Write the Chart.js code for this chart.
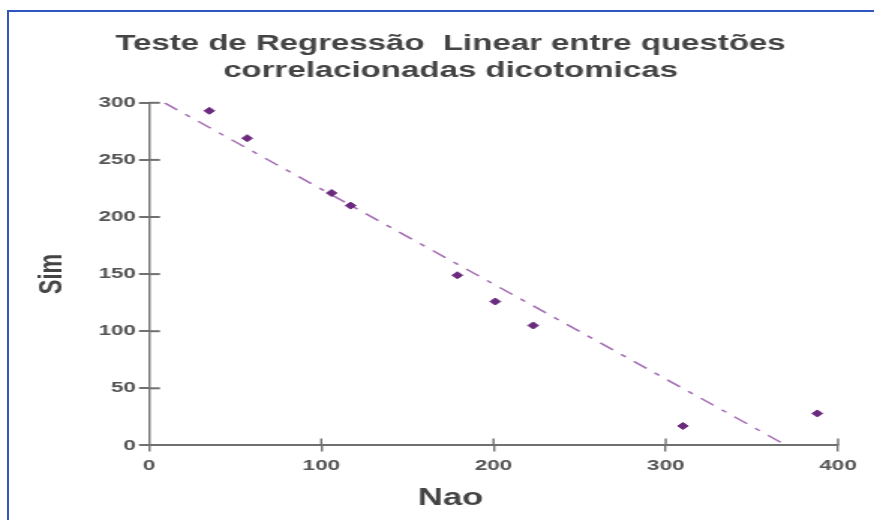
<!DOCTYPE html>
<html>
<head>
<meta charset="utf-8">
<script src="https://cdn.jsdelivr.net/npm/chart.js@4"></script>
<style>
  html, body { margin: 0; padding: 0; background: #fff; }
  #wrap { position: relative; width: 874px; height: 520px; overflow: hidden; }
  #frame { position: absolute; left: 7px; top: 10px; width: 900px; height: 600px;
           border-top: 2px solid #2f55c0; border-left: 2px solid #2f55c0; }
  /* the original picture is stretched sideways, so the canvas is drawn narrow and widened */
  #scatterChart { position: absolute; left: 0; top: 0; width: 874px !important; height: 520px !important; }
</style>
</head>
<body>
<div id="wrap">
  <div id="frame"></div>
  <canvas id="scatterChart" width="583" height="520"></canvas>
</div>
<script>
// observed pairs (Nao, Sim)
const nao = [35, 57, 106, 117, 179, 201, 223, 310, 388];
const sim = [293, 269, 221, 210, 149, 126, 105, 17, 28];

// regression line as drawn (endpoints)
const lineNao = [9, 370];
const lineSim = [300, 0];

const xTicks = [0, 100, 200, 300, 400];
const yTicks = [0, 50, 100, 150, 200, 250, 300];

const axisColor = "#707070";
const sans = "'Liberation Sans', Arial, sans-serif";
const labelFont = { family: sans, size: 15, weight: "bold" };

// short tick marks on the inner side of both axes
const innerTicks = {
  id: "innerTicks",
  afterDatasetsDraw(chart) {
    const ctx = chart.ctx;
    const x = chart.scales.x, y = chart.scales.y;
    ctx.save();
    ctx.strokeStyle = axisColor;
    ctx.lineWidth = 1.4;
    xTicks.forEach(v => {
      if (v === 0) return;
      const px = x.getPixelForValue(v);
      ctx.beginPath();
      ctx.moveTo(px, y.bottom);
      ctx.lineTo(px, y.bottom - 7);
      ctx.stroke();
    });
    ctx.lineWidth = 2;
    yTicks.forEach(v => {
      if (v === 0) return;
      const py = y.getPixelForValue(v);
      ctx.beginPath();
      ctx.moveTo(x.left, py);
      ctx.lineTo(x.left + 7.3, py);
      ctx.stroke();
    });
    ctx.restore();
  }
};

const context = document.getElementById("scatterChart").getContext("2d");
const chart = new Chart(context, {
  type: "scatter",
  data: {
    datasets: [{
      label: "Sim x Nao",
      data: nao.map((v, i) => ({ x: v, y: sim[i] })),
      pointStyle: "rectRot",
      pointRadius: 3.5,
      backgroundColor: "#6b2a7e",
      borderColor: "#6b2a7e",
      borderWidth: 1,
      order: 1
    }, {
      type: "line",
      label: "regressao",
      data: lineNao.map((v, i) => ({ x: v, y: lineSim[i] })),
      borderColor: "#a46cb4",
      borderWidth: 1.5,
      borderDash: [11, 7, 4, 7],
      pointRadius: 0,
      fill: false,
      order: 2
    }]
  },
  options: {
    responsive: false,
    devicePixelRatio: 1,
    animation: false,
    layout: { padding: { left: 42, right: 24, top: 31, bottom: 8 } },
    plugins: {
      legend: { display: false },
      tooltip: { enabled: false },
      title: {
        display: true,
        text: ["Teste de Regressão  Linear entre questões", "correlacionadas dicotomicas"],
        color: "#444",
        font: { family: sans, size: 22, weight: "bold", lineHeight: 1.2 },
        padding: { top: 0, bottom: 19 }
      },
      subtitle: {
        display: true,
        position: "bottom",
        text: "Nao",
        color: "#444",
        font: { family: sans, size: 23, weight: "bold", lineHeight: 1.2 },
        padding: 0
      }
    },
    scales: {
      x: {
        type: "linear",
        min: 0,
        max: 400,
        afterBuildTicks: s => { s.ticks = xTicks.map(v => ({ value: v })); },
        afterFit: s => { s.height = 39; },
        grid: { drawOnChartArea: false, color: axisColor, lineWidth: 1.4, tickLength: 6 },
        border: { color: axisColor, width: 2 },
        ticks: { color: "#555", font: labelFont, padding: 5, maxRotation: 0 }
      },
      y: {
        type: "linear",
        min: 0,
        max: 300,
        afterBuildTicks: s => { s.ticks = yTicks.map(v => ({ value: v })); },
        afterFit: s => { s.width = 57.4; },
        grid: { drawOnChartArea: false, color: axisColor, lineWidth: 2, tickLength: 6.7 },
        border: { color: axisColor, width: 1.4 },
        ticks: { color: "#555", font: labelFont, padding: 2 },
        title: {
          display: true,
          text: "Sim",
          color: "#444",
          font: { family: sans, size: 22, weight: "bold" },
          padding: { top: -20, bottom: 0 }
        }
      }
    }
  },
  plugins: [innerTicks]
});
</script>
</body>
</html>
